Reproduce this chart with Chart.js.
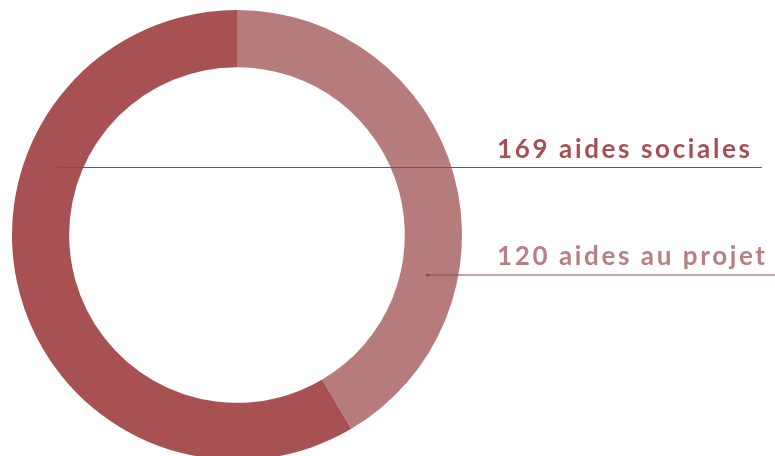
<!DOCTYPE html>
<html><head><meta charset="utf-8">
<script src="https://cdn.jsdelivr.net/npm/chart.js@4/dist/chart.umd.min.js"></script>
<style>
html,body{margin:0;padding:0;background:#fff;overflow:hidden;width:775px;height:456px}
#wrap{position:absolute;left:0;top:0;width:775px;height:470px}
</style></head>
<body><div id="wrap"><canvas id="c" width="775" height="470"></canvas></div>
<script>
const categories = ["aides au projet", "aides sociales"];
const values = [120, 169];
const labels = ["120 aides au projet", "169 aides sociales"];
const colors = ["#B67B7B", "#A85153"];
const textColors = ["#B98083", "#A84F55"];

const calloutPlugin = {
  id: 'callouts',
  afterDraw(chart) {
    const ctx = chart.ctx;
    const meta = chart.getDatasetMeta(0);
    const arc0 = meta.data[0];
    const cx = arc0.x, cy = arc0.y;
    const defs = [
      {i: 1, y: 167.5, endX: 762, textX: 497, textW: 253, side: -1, f: 0.4},
      {i: 0, y: 275, endX: 775, textX: 497, textW: 268, side: 1, f: 0.47}
    ];
    ctx.save();
    defs.forEach(d => {
      const r = arc0.innerRadius + d.f * (arc0.outerRadius - arc0.innerRadius);
      const dy = d.y - cy;
      const startX = cx + d.side * Math.sqrt(Math.max(0, r * r - dy * dy));
      ctx.strokeStyle = '#8A4A4E';
      ctx.lineWidth = 1;
      ctx.beginPath();
      ctx.moveTo(startX, d.y);
      ctx.lineTo(d.endX, d.y);
      ctx.stroke();
      ctx.fillStyle = '#8A4A4E';
      ctx.beginPath();
      ctx.arc(startX, d.y, 1.6, 0, Math.PI * 2);
      ctx.fill();
      const txt = labels[d.i];
      ctx.font = 'bold 26px Lato';
      ctx.letterSpacing = '0px';
      const w = ctx.measureText(txt).width;
      const ls = (d.textW - w) / (txt.length - 1);
      ctx.letterSpacing = ls.toFixed(2) + 'px';
      ctx.fillStyle = textColors[d.i];
      ctx.textBaseline = 'alphabetic';
      ctx.textAlign = 'left';
      ctx.fillText(txt, d.textX, d.y - 10);
    });
    ctx.restore();
  }
};

new Chart(document.getElementById('c'), {
  type: 'doughnut',
  data: {
    labels: categories,
    datasets: [{
      data: values,
      backgroundColor: colors,
      borderWidth: 0,
      hoverOffset: 0
    }]
  },
  options: {
    responsive: false,
    animation: false,
    cutout: '74.6%',
    rotation: 0,
    layout: {padding: {left: 12, right: 313, top: 10, bottom: 10}},
    plugins: {legend: {display: false}, tooltip: {enabled: false}}
  },
  plugins: [calloutPlugin]
});
</script>
</body></html>
